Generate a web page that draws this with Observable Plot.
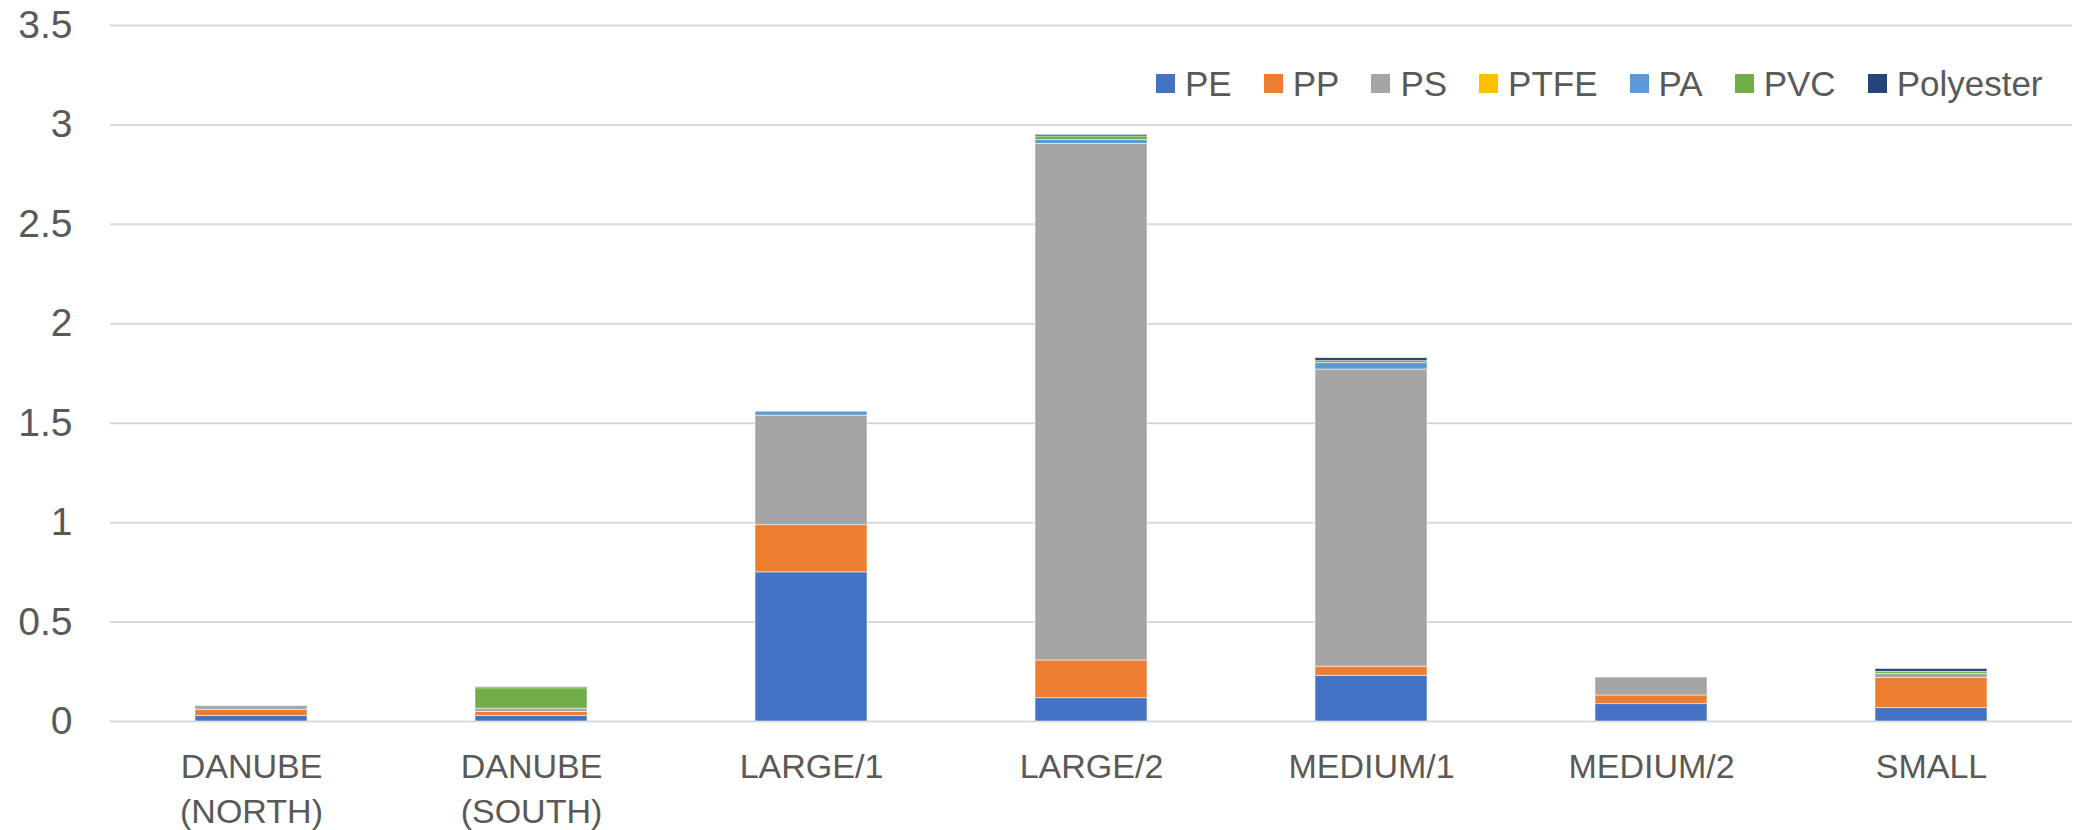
<!DOCTYPE html>
<html>
<head>
<meta charset="utf-8">
<script src="https://cdn.jsdelivr.net/npm/d3@7"></script>
<script src="https://cdn.jsdelivr.net/npm/@observablehq/plot@0.6"></script>
<style>
  html, body { margin: 0; padding: 0; background: #ffffff; }
  #wrap { position: relative; width: 2078px; height: 830px; font-family: "Liberation Sans", Arial, sans-serif; }
  #legend { position: absolute; left: 1156px; top: 66px; display: flex; align-items: center; color: #595959; font-size: 35px; line-height: 1; }
  .item { display: flex; align-items: center; margin-right: 32px; }
  .sw { width: 19px; height: 19px; margin-right: 10px; }
</style>
</head>
<body>
<div id="wrap"><div id="legend"></div></div>
<script>
// Sampling sites along the x axis
const categories = ["DANUBE (NORTH)", "DANUBE (SOUTH)", "LARGE/1", "LARGE/2", "MEDIUM/1", "MEDIUM/2", "SMALL"];
const tickLabels = ["DANUBE\n(NORTH)", "DANUBE\n(SOUTH)", "LARGE/1", "LARGE/2", "MEDIUM/1", "MEDIUM/2", "SMALL"];

// Polymer types, stacked bottom to top
const polymers = ["PE", "PP", "PS", "PTFE", "PA", "PVC", "Polyester"];
const colors = ["#4472C4", "#ED7D31", "#A5A5A5", "#FFC000", "#5B9BD5", "#70AD47", "#264478"];

// Values per site for each polymer
const PE        = [0.027, 0.028, 0.750, 0.117, 0.230, 0.087, 0.067];
const PP        = [0.032, 0.020, 0.237, 0.190, 0.046, 0.044, 0.151];
const PS        = [0.018, 0.017, 0.551, 2.597, 1.494, 0.090, 0.022];
const PTFE      = [0, 0, 0, 0, 0, 0, 0];
const PA        = [0, 0, 0.020, 0.020, 0.032, 0, 0];
const PVC       = [0, 0.102, 0, 0.018, 0.010, 0, 0.010];
const Polyester = [0, 0.005, 0, 0.008, 0.015, 0, 0.014];

const yTicks = [0, 0.5, 1, 1.5, 2, 2.5, 3, 3.5];

const seriesValues = {PE, PP, PS, PTFE, PA, PVC, Polyester};
const rows = [];
polymers.forEach(p => categories.forEach((c, i) => rows.push({site: c, polymer: p, value: seriesValues[p][i]})));
const labelOf = new Map(categories.map((c, i) => [c, tickLabels[i]]));

const chart = Plot.plot({
  width: 2078,
  height: 830,
  marginLeft: 110,
  marginRight: 6,
  marginTop: 25,
  marginBottom: 109,
  style: {fontFamily: '"Liberation Sans", Arial, sans-serif', color: "#595959", background: "#ffffff"},
  x: {type: "band", domain: categories, paddingInner: 0.6, paddingOuter: 0.3, axis: null, label: null},
  y: {domain: [0, 3.5], axis: null, label: null},
  color: {domain: polymers, range: colors},
  marks: [
    Plot.gridY(yTicks, {stroke: "#d9d9d9", strokeOpacity: 1, strokeWidth: 2}),
    Plot.barY(rows, {x: "site", y: "value", fill: "polymer", stroke: "#ffffff", strokeWidth: 0.75, strokeOpacity: 0.7}),
    Plot.axisY({ticks: yTicks, tickFormat: d => String(d), tickSize: 0, tickPadding: 38, fontSize: 39, label: null}),
    Plot.axisX({tickSize: 0, tickPadding: 24, fontSize: 34, lineHeight: 1.34, label: null, tickFormat: c => labelOf.get(c)})
  ]
});
const wrap = document.getElementById("wrap");
wrap.insertBefore(chart, wrap.firstChild);

// Legend row
const legend = document.getElementById("legend");
polymers.forEach((p, i) => {
  const item = document.createElement("div");
  item.className = "item";
  const sw = document.createElement("div");
  sw.className = "sw";
  sw.style.background = colors[i];
  const t = document.createElement("span");
  t.textContent = p;
  item.appendChild(sw);
  item.appendChild(t);
  legend.appendChild(item);
});
</script>
</body>
</html>
